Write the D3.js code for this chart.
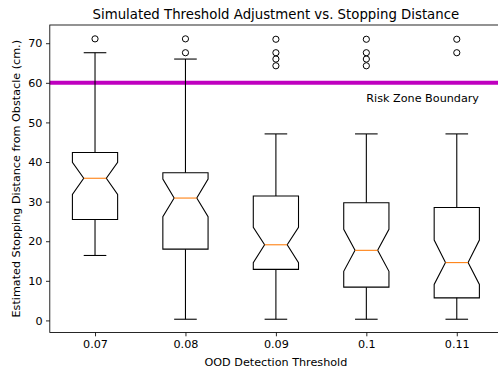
<!DOCTYPE html>
<html>
<head>
<meta charset="utf-8">
<script src="https://cdn.jsdelivr.net/npm/d3@7"></script>
<style>
  html, body { margin: 0; padding: 0; background: #fff; }
  svg { display: block; font-family: "DejaVu Sans", sans-serif; }
</style>
</head>
<body>
<div id="chart"></div>
<script>
/* ====== Notched boxplot: threshold vs stopping distance ====== */
(() => {
  const W = 498, H = 371;
  const M = { left: 49.8, right: 502, top: 25, bottom: 332.5 };
  const FS = "11.2px";

  // Data
  const thresholds = ["0.07", "0.08", "0.09", "0.1", "0.11"];
  const whiskerLo = [16.4, 0.3, 0.3, 0.3, 0.3];
  const q1        = [25.5, 18.0, 12.9, 8.4, 5.7];
  const notchLo   = [31.8, 26.2, 14.6, 12.4, 9.1];
  const median    = [35.9, 30.9, 19.1, 17.7, 14.6];
  const notchHi   = [39.9, 35.7, 23.5, 23.0, 20.3];
  const q3        = [42.4, 37.3, 31.4, 29.7, 28.5];
  const whiskerHi = [67.6, 66.0, 47.1, 47.1, 47.1];
  const fliers = [
    [71.1],
    [71.1, 67.6],
    [71.0, 67.6, 66.0, 64.3],
    [71.0, 67.6, 66.0, 64.3],
    [71.0, 67.6]
  ];
  const yTicks = [0, 10, 20, 30, 40, 50, 60, 70];
  const riskLevel = 60;
  const riskLabel = "Risk Zone Boundary";

  const svg = d3.select("#chart").append("svg")
    .attr("width", W).attr("height", H);

  const x = d3.scaleLinear().domain([0.5, 5.5]).range([M.left, M.right]);
  const y = d3.scaleLinear().domain([-3.05, 74.6]).range([M.bottom, M.top]);

  const boxW = 0.5, capW = 0.25;

  // Axes
  const xAxis = d3.axisBottom(x)
    .tickValues(thresholds.map((_, i) => i + 1))
    .tickFormat((d) => thresholds[d - 1])
    .tickSizeOuter(0).tickSize(3.8).tickPadding(3.5);
  const yAxis = d3.axisLeft(y)
    .tickValues(yTicks)
    .tickSizeOuter(0).tickSize(3.8).tickPadding(3.5);

  const styleAxis = (g) => {
    g.select(".domain").remove();
    g.selectAll("line").attr("stroke", "#000").attr("stroke-width", 0.85);
    g.selectAll("text").attr("fill", "#000").style("font-size", FS)
      .style("font-family", "DejaVu Sans, sans-serif");
  };
  svg.append("g").attr("transform", `translate(0,${M.bottom})`).call(xAxis).call(styleAxis);
  svg.append("g").attr("transform", `translate(${M.left},0)`).call(yAxis).call(styleAxis);

  // Risk line
  svg.append("line")
    .attr("x1", M.left).attr("x2", M.right)
    .attr("y1", y(riskLevel)).attr("y2", y(riskLevel))
    .attr("stroke", "#bf00bf").attr("stroke-width", 4);

  svg.append("text")
    .attr("x", x(4)).attr("y", y(riskLevel) + 19.5)
    .style("font-size", FS).attr("fill", "#000")
    .text(riskLabel);

  // Boxes
  const plot = svg.append("g");
  thresholds.forEach((t, i) => {
    const p = i + 1;
    const bl = x(p - boxW / 2), br = x(p + boxW / 2);
    const ml = x(p - boxW / 4), mr = x(p + boxW / 4);
    const cl = x(p - capW / 2), cr = x(p + capW / 2);
    const cx = x(p);

    const pts = [
      [bl, y(q1[i])], [br, y(q1[i])], [br, y(notchLo[i])], [mr, y(median[i])],
      [br, y(notchHi[i])], [br, y(q3[i])], [bl, y(q3[i])], [bl, y(notchHi[i])],
      [ml, y(median[i])], [bl, y(notchLo[i])]
    ];
    plot.append("path")
      .attr("d", d3.line()(pts) + "Z")
      .attr("fill", "none").attr("stroke", "#000").attr("stroke-width", 1.08);

    // whiskers
    [[q1[i], whiskerLo[i]], [q3[i], whiskerHi[i]]].forEach(([a, b]) => {
      plot.append("line").attr("x1", cx).attr("x2", cx)
        .attr("y1", y(a)).attr("y2", y(b))
        .attr("stroke", "#000").attr("stroke-width", 1.08);
      plot.append("line").attr("x1", cl).attr("x2", cr)
        .attr("y1", y(b)).attr("y2", y(b))
        .attr("stroke", "#000").attr("stroke-width", 1.08);
    });

    // median
    plot.append("line").attr("x1", ml).attr("x2", mr)
      .attr("y1", y(median[i])).attr("y2", y(median[i]))
      .attr("stroke", "#ff7f0e").attr("stroke-width", 1.08);

    // fliers
    plot.selectAll(null).data(fliers[i]).join("circle")
      .attr("cx", cx).attr("cy", (d) => y(d)).attr("r", 3.1)
      .attr("fill", "none").attr("stroke", "#000").attr("stroke-width", 1.0);
  });

  // Spines
  svg.append("rect")
    .attr("x", M.left).attr("y", M.top)
    .attr("width", M.right - M.left).attr("height", M.bottom - M.top)
    .attr("fill", "none").attr("stroke", "#000").attr("stroke-width", 0.85);

  // Title & labels
  svg.append("text")
    .attr("x", (M.left + M.right) / 2).attr("y", 18.5)
    .attr("text-anchor", "middle").style("font-size", "13.3px")
    .text("Simulated Threshold Adjustment vs. Stopping Distance");

  svg.append("text")
    .attr("x", (M.left + M.right) / 2).attr("y", 365.5)
    .attr("text-anchor", "middle").style("font-size", FS)
    .text("OOD Detection Threshold");

  svg.append("text")
    .attr("transform", `translate(20,${(M.top + M.bottom) / 2}) rotate(-90)`)
    .attr("text-anchor", "middle").style("font-size", FS)
    .text("Estimated Stopping Distance from Obstacle (cm.)");
})();
</script>
</body>
</html>
